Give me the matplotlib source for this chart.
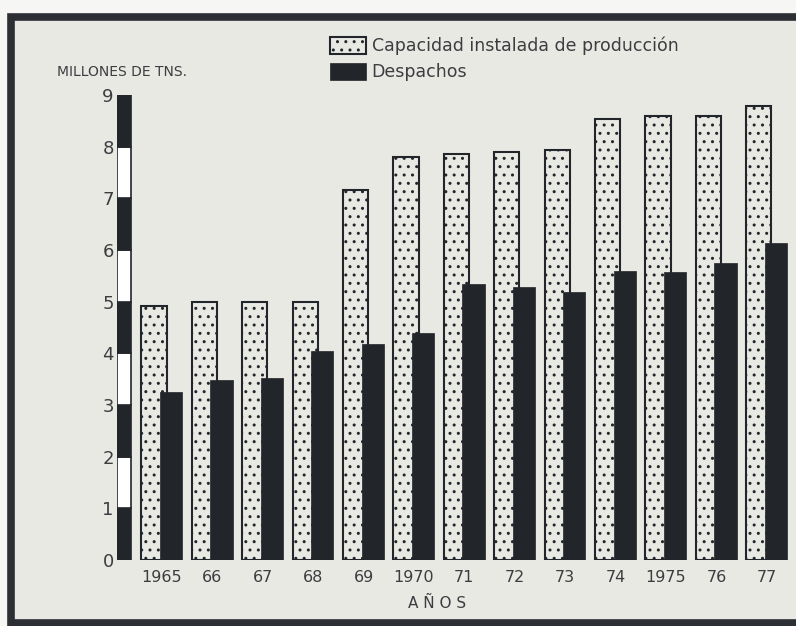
import matplotlib.pyplot as plt
import matplotlib.patches as mpatches
import numpy as np

years = ["1965", "66", "67", "68", "69", "1970", "71", "72", "73", "74", "1975", "76", "77"]
capacidad = [4.91, 4.99, 4.99, 4.99, 7.16, 7.80, 7.85, 7.89, 7.93, 8.53, 8.60, 8.60, 8.78]
despachos = [3.25, 3.48, 3.52, 4.04, 4.18, 4.39, 5.34, 5.28, 5.18, 5.59, 5.57, 5.74, 6.13]
scale_steps = list(range(9))

ink = "#22262b"
txt = "#3b3d40"
bg = "#e9e9e4"

plt.rcParams['hatch.linewidth'] = 1.0
plt.rcParams['hatch.color'] = ink
plt.rcParams['font.family'] = ['DejaVu Sans']

fig = plt.figure(figsize=(7.96, 6.26), dpi=100)
fig.patch.set_facecolor("#f6f6f4")

# dark frame of the plate
frame = mpatches.Rectangle((0.0138, 0.005), 1.1, 0.968, transform=fig.transFigure,
                           facecolor=bg, edgecolor="#2c3035", linewidth=5.5, zorder=-10)
fig.patches.append(frame)

px = 50.4  # pixels per group
x0 = 162   # pixel of first group centre
xl = -0.9
xr = (796 - x0) / px
ax = fig.add_axes([(x0 + xl * px) / 796, 1 - 560 / 626, 1 - (x0 + xl * px) / 796, (560 - 95) / 626])
ax.set_facecolor("none")
ax.set_zorder(2)

x = np.arange(len(years))
ax.bar(x - 0.16, capacidad, width=0.5, facecolor=bg, edgecolor=ink, linewidth=1.5,
       hatch="..", label="Capacidad instalada de producción", zorder=2)
ax.bar(x + 0.18, despachos, width=0.44, color=ink, edgecolor=ink, linewidth=0.5,
       label="Despachos", zorder=3)

# alternating scale bar on the value axis
sx = xl + 0.14
for s in scale_steps:
    ax.bar(sx, 1, bottom=s, width=0.27, color=(ink if s % 2 == 0 else "white"),
           edgecolor=ink, linewidth=1.2, zorder=3)

ax.set_xlim(xl, xr)
ax.set_ylim(0, 9)
ax.set_yticks(range(10))
ax.set_yticklabels([str(v) for v in range(10)], fontsize=13, color=txt)
ax.set_xticks(x)
ax.set_xticklabels(years, fontsize=11.5, color=txt)
ax.tick_params(length=0, axis='y', pad=2)
ax.tick_params(length=0, axis='x', pad=7)
for sp in ax.spines.values():
    sp.set_visible(False)

fig.text(57 / 796, 1 - 72 / 626, "MILLONES DE TNS.", fontsize=10, color=txt, va="center")
fig.text(437 / 796, 1 - 603 / 626, "A Ñ O S", fontsize=11, color=txt, ha="center", va="center")

fig.legend(loc="upper left", bbox_to_anchor=(323 / 796, 1 - 30 / 626), frameon=False,
           fontsize=12.5, handlelength=2.1, handleheight=1.1, handletextpad=0.3,
           labelspacing=0.45, borderaxespad=0, labelcolor=txt)

fig.savefig("out.png", dpi=100, facecolor=fig.get_facecolor())
